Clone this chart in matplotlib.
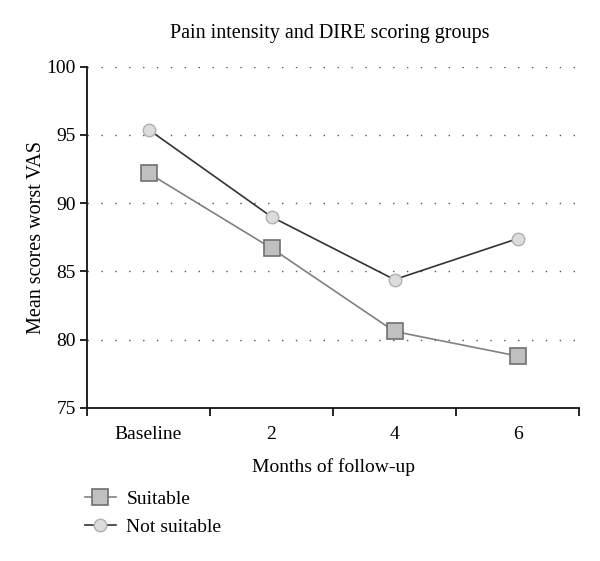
import matplotlib
matplotlib.use("Agg")
import matplotlib.pyplot as plt

categories = ["Baseline", "2", "4", "6"]
suitable = [92.2, 86.7, 80.6, 78.8]
not_suitable = [95.4, 89.0, 84.4, 87.4]
yticks = [75, 80, 85, 90, 95, 100]

plt.rcParams['font.family'] = ['Liberation Serif', 'DejaVu Serif']

fig = plt.figure(figsize=(6, 5.61), dpi=100)
ax = fig.add_axes([0.145, 0.273, 0.82, 0.608])

x = list(range(len(categories)))
l1, = ax.plot(x, suitable, color="#808080", lw=1.2, marker="s", markersize=11,
              markerfacecolor="#c0c0c0", markeredgecolor="#707070", markeredgewidth=1.2, zorder=3)
l2, = ax.plot(x, not_suitable, color="#333333", lw=1.2, marker="o", markersize=9,
              markerfacecolor="#dcdcdc", markeredgecolor="#b0b0b0", markeredgewidth=1.0, zorder=4)

ax.set_xlim(-0.5, len(categories) - 0.5)
ax.set_ylim(75, 100)
ax.set_yticks(yticks)
for yv in yticks[1:]:
    ax.axhline(yv, color="#555555", lw=1.0, ls=(0, (1, 9)), zorder=1)

ax.set_xticks([i - 0.5 for i in range(len(categories) + 1)])
ax.set_xticklabels([])
ax.set_xticks(x, minor=True)
ax.set_xticklabels(categories, minor=True, fontsize=14)
ax.tick_params(axis="x", which="minor", length=0, pad=13)
ax.tick_params(axis="x", which="major", length=6, width=1.2, direction="out")
ax.tick_params(axis="y", length=5, width=1.2, direction="out", labelsize=14, pad=3)

for s in ["top", "right"]:
    ax.spines[s].set_visible(False)
for s in ["left", "bottom"]:
    ax.spines[s].set_linewidth(1.3)
    ax.spines[s].set_color("#111111")

ax.set_xlabel("Months of follow-up", fontsize=14, labelpad=11)
ax.set_ylabel("Mean scores worst VAS", fontsize=14.5, labelpad=1)
ax.yaxis.set_label_coords(-0.083, 0.5)
fig.text(0.55, 0.94, "Pain intensity and DIRE scoring groups", ha="center", va="center", fontsize=14.5)

fig.legend([l1, l2], ["Suitable", "Not suitable"], loc="upper left",
           bbox_to_anchor=(0.128, 0.14),
           frameon=False, fontsize=14, handlelength=1.6, handletextpad=0.55,
           labelspacing=0.55, borderaxespad=0)

fig.savefig("out.png", dpi=100)
